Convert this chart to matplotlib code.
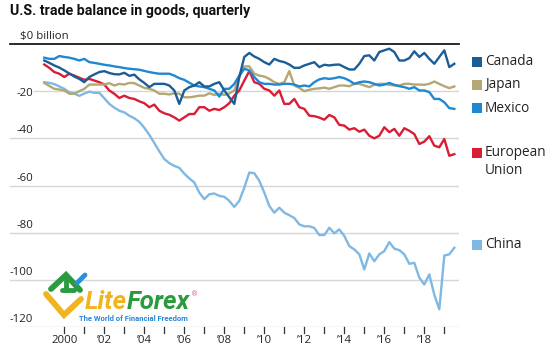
import matplotlib
matplotlib.use("Agg")
import matplotlib.pyplot as plt
import matplotlib.transforms as mtransforms
from matplotlib.patches import Rectangle
from matplotlib.lines import Line2D
import numpy as np

# ---- data (US$ billion, quarterly, 1999Q1 .. 2019Q3) ----
start_year = 1999.0
canada = [-7, -8, -9.1, -10, -11.2, -12.5, -13.8, -14.8, -16.2, -14, -12.9, -11.9, -11.5, -12.3, -12.8,
          -12.9, -12.2, -13.5, -13, -15, -16.5, -18.3, -16.9, -16.9, -16.9, -17.6, -19.7, -25.4, -19.7,
          -18.3, -17.6, -16.2, -18, -18, -16.9, -16.2, -19.7, -22.6, -25.4, -14, -5.5, -3.8, -5.3, -6.3,
          -7.7, -8.7, -6.3, -7.2, -7.7, -8.7, -10.1, -10.1, -9.1, -8.4, -7.7, -9.8, -8.8, -9.1, -8.8,
          -8.7, -9.8, -10.8, -10.8, -8.4, -5.1, -4.8, -7, -3.4, -2.7, -2, -3.4, -7, -7, -6, -3.1, -5.5,
          -3.8, -6.3, -8.4, -5.5, -2.7, -9.8, -8.4]
japan = [-16.5, -17.8, -19, -19.3, -19.7, -21.1, -21.1, -20, -19, -17.2, -17.2, -17.2, -17.2, -16.6,
         -17.6, -16.9, -17.2, -16.5, -16.6, -17.6, -18.6, -19, -19.7, -21.1, -21.1, -21.4, -20.9, -21.1,
         -22.6, -22.6, -22.3, -21.9, -21.9, -20.9, -21.6, -21.1, -21.6, -20.9, -19.7, -14, -9.5, -9.5,
         -12.6, -13.4, -13.8, -14.8, -16.2, -16.9, -16.2, -11.5, -17.6, -18.6, -20, -19.4, -19, -18.8,
         -18.5, -19, -18.3, -17.6, -17.6, -17.9, -16.9, -16.9, -17.6, -18.3, -17.3, -16.9, -16.9, -17.3,
         -17.6, -17.6, -16.9, -16.9, -17.2, -17.2, -17.3, -16.9, -15.9, -16.9, -17.9, -18.7, -18]
mexico = [-5.8, -6.3, -6.3, -5.1, -5.5, -5.8, -6.3, -7, -6.3, -7.7, -8, -8.4, -8.8, -9.1, -9.5, -9.8,
          -10.2, -10.5, -10.7, -10.9, -11.4, -11.9, -12.3, -12.6, -12.6, -12.6, -13.4, -14.5, -15.2,
          -16.4, -17.6, -18, -18.3, -19, -19.7, -22.3, -19, -19, -16.9, -13.4, -10.5, -11.2, -14, -16.2,
          -16.9, -16.9, -17.2, -17.2, -16.9, -16.9, -17.2, -18, -17.6, -18, -16.2, -15, -14.5, -14.8,
          -14.5, -14, -14.5, -15.5, -16.9, -16.2, -15.9, -16.2, -16.9, -17.6, -17.2, -16.5, -17.3, -17.9,
          -18.3, -19, -18.3, -19.7, -19.7, -20.4, -23.3, -23.3, -24.7, -27.2, -27.5]
eu = [-8.7, -10.1, -11.9, -12.6, -14, -12.6, -13.4, -14.3, -15.2, -14.8, -15.5, -16.2, -17.2, -19.7,
      -21.1, -22.9, -21.9, -22.9, -23.3, -24.3, -25.1, -26.8, -25.7, -28.3, -29.4, -30, -31.1, -32.5,
      -31.1, -29.7, -29.7, -26.8, -26.8, -28.3, -27.5, -28, -26.8, -25.1, -21.9, -19.7, -15.5, -11.5,
      -16.2, -16.9, -19, -19.7, -21.9, -19.7, -25.4, -25.4, -23.3, -26.8, -27.5, -30.4, -30.6, -31.2,
      -32.1, -30.1, -31.1, -34.3, -34.6, -36.3, -35.7, -37.2, -36.3, -38.9, -40, -38.9, -35.3, -37.4,
      -36, -38.9, -35.7, -36.8, -38.2, -42.4, -41.4, -39.1, -43.1, -43.8, -40.3, -47.4, -46.7]
china = [-16.2, -16.5, -17, -18, -19, -20.5, -21, -22, -21, -20.2, -20.7, -20.7, -23, -25.4, -27,
         -28.3, -29, -30.4, -31.5, -33, -35.5, -38.5, -42, -45.5, -48.8, -50.5, -51.7, -52.5, -55, -57,
         -58.7, -63, -65.8, -63.7, -63.4, -64.4, -64.8, -66.5, -69.1, -66.5, -60.9, -54.5, -54.8, -58,
         -63, -68.7, -71.5, -69.4, -71.5, -72.6, -73.8, -76.5, -77.3, -77.3, -78, -81, -81, -77.9,
         -80.3, -78.6, -81.4, -85.7, -87.1, -89.2, -95.6, -88.8, -92.1, -89.2, -87.8, -84, -86.8, -87.4,
         -89.2, -93.2, -92.8, -99.1, -102, -97.7, -106.3, -112.5, -89.7, -89.2, -86.4]

series_names = ["Canada", "Japan", "Mexico", "European\nUnion", "China"]
y_ticks = [0, -20, -40, -60, -80, -100, -120]
y_tick_labels = ["$0 billion", "-20", "-40", "-60", "-80", "-100", "-120"]
x_label_years = [2000, 2002, 2004, 2006, 2008, 2010, 2012, 2014, 2016, 2018]
x_tick_labels = ["2000", "\u201902", "\u201904", "\u201906", "\u201908", "\u201910",
                 "\u201912", "\u201914", "\u201916", "\u201918"]

colors = {"Canada": "#1b5e96", "Japan": "#b3a874", "Mexico": "#1e88d2",
          "European\nUnion": "#d81e35", "China": "#7fb9e3"}

W, H = 556, 357
fig = plt.figure(figsize=(W / 100, H / 100), dpi=100)
fig.patch.set_facecolor("white")

def fx(px):
    return px / W

def fy(py):
    return 1 - py / H

ax_left, ax_right, ax_top, ax_bot = 10, 459, 44, 327
ax = fig.add_axes([fx(ax_left), fy(ax_bot), (ax_right - ax_left) / W, (ax_bot - ax_top) / H])
ax.set_xlim(1997.285, 2019.735)
ax.set_ylim(-120, 0)
for s in ax.spines.values():
    s.set_visible(False)
ax.set_yticks([])
ax.set_xticks([])
ax.patch.set_alpha(0)

tick_font = ["Open Sans", "DejaVu Sans"]
blend = mtransforms.blended_transform_factory(ax.transAxes, ax.transData)

# gridlines
for v in y_ticks[1:]:
    xmin = 0.0
    if v == -20:
        xmin = (34 - ax_left) / (ax_right - ax_left)
    ax.axhline(v, xmin=xmin, xmax=1, color="#d6d6d6", lw=1.0, zorder=1)
ax.axhline(0, color="#1a1a1a", lw=1.3, zorder=6, clip_on=False)

# y labels
for v, lab in zip(y_ticks, y_tick_labels):
    if v == 0:
        ax.text((20 - ax_left) / (ax_right - ax_left), 0.9, lab, transform=blend, ha="left",
                va="bottom", fontsize=8.2, family=tick_font, color="#222222")
    elif v == -20:
        ax.text((33 - ax_left) / (ax_right - ax_left), -21.0, lab, transform=blend, ha="right",
                va="center", fontsize=8.2, family=tick_font, color="#222222")
    else:
        ax.text((33 - ax_left) / (ax_right - ax_left), v + 0.8, lab, transform=blend, ha="right",
                va="bottom", fontsize=8.2, family=tick_font, color="#222222")

# x ticks
for yr in range(2000, 2020):
    ax.plot([yr, yr], [-120, -122.4], color="#333333", lw=0.9, clip_on=False, zorder=5)
for yr, lab in zip(x_label_years, x_tick_labels):
    ax.text(yr, -123.6, lab, ha="center", va="top", fontsize=8.2, family=tick_font, color="#222222")

# series
data = {"Canada": canada, "Japan": japan, "Mexico": mexico, "European\nUnion": eu, "China": china}
order = ["China", "European\nUnion", "Japan", "Mexico", "Canada"]
for i, name in enumerate(order):
    vals = np.array(data[name], dtype=float)
    xs = start_year + 0.25 * np.arange(len(vals))
    ax.plot(xs, vals, color=colors[name], lw=1.7, solid_joinstyle="round", zorder=3 + i * 0.1)

# legend (manual)
leg_y = {"Canada": 61.7, "Japan": 84.8, "Mexico": 108.3, "European\nUnion": 152.8, "China": 244.5}
for name in series_names:
    cy = leg_y[name]
    fig.add_artist(Rectangle((fx(472), fy(cy + 5)), 10 / W, 10 / H, transform=fig.transFigure,
                             facecolor=colors[name], edgecolor="none"))
    if "\n" in name:
        l1, l2 = name.split("\n")
        fig.text(fx(485), fy(cy), l1, ha="left", va="center", fontsize=9.8, family=tick_font,
                 color="#222222")
        fig.text(fx(485), fy(cy + 17.5), l2, ha="left", va="center", fontsize=9.8,
                 family=tick_font, color="#222222")
    else:
        fig.text(fx(485), fy(cy), name, ha="left", va="center", fontsize=9.8, family=tick_font,
                 color="#222222")

# title
fig.text(fx(10), fy(11.5), "U.S. trade balance in goods, quarterly", ha="left", va="center",
         fontsize=10.3, fontweight="bold", family=["Roboto", "DejaVu Sans"], color="#111111")

# watermark logo (approximate)
def seg(pts, color, lw):
    xs_ = [fx(p[0]) for p in pts]
    ys_ = [fy(p[1]) for p in pts]
    fig.add_artist(Line2D(xs_, ys_, transform=fig.transFigure, color=color, lw=lw,
                          solid_capstyle="round", solid_joinstyle="miter", zorder=10))

seg([(46, 294), (64, 315), (81, 299)], "#f0b41f", 4.2)
seg([(51, 289), (66, 275), (80, 290)], "#2b9b3f", 4.2)
seg([(62, 290), (74, 290)], "#2b9b3f", 3.5)
seg([(66, 276), (66, 290)], "#2b9b3f", 3.5)
seg([(77, 283), (85, 275)], "#2a8fd8", 3.5)

base_y = 309
lite = fig.text(fx(85), fy(base_y), "Lite", ha="left", va="baseline", fontsize=18.5,
                fontweight="bold", style="italic", family=["Roboto", "DejaVu Sans"],
                color="#f0b41f", zorder=10)
forex = fig.text(0, 0, "Forex", ha="left", va="baseline", fontsize=18.5, fontweight="bold",
                 style="italic", family=["Roboto", "DejaVu Sans"], color="#2b9b3f", zorder=10)
fig.canvas.draw()
r = fig.canvas.get_renderer()
bb = lite.get_window_extent(r)
forex.set_position((bb.x1 / W, fy(base_y)))
bb2 = forex.get_window_extent(r)
fig.text(bb2.x1 / W + 0.002, fy(294), "\u00ae", ha="left", va="center", fontsize=5,
         color="#e05560", zorder=10)
fig.text(fx(79), fy(318.5), "The World of Financial Freedom", ha="left", va="center",
         fontsize=5.5, fontweight="bold", family=["Roboto", "DejaVu Sans"], color="#2a86d6",
         zorder=10)

fig.savefig("out.png", dpi=100)
